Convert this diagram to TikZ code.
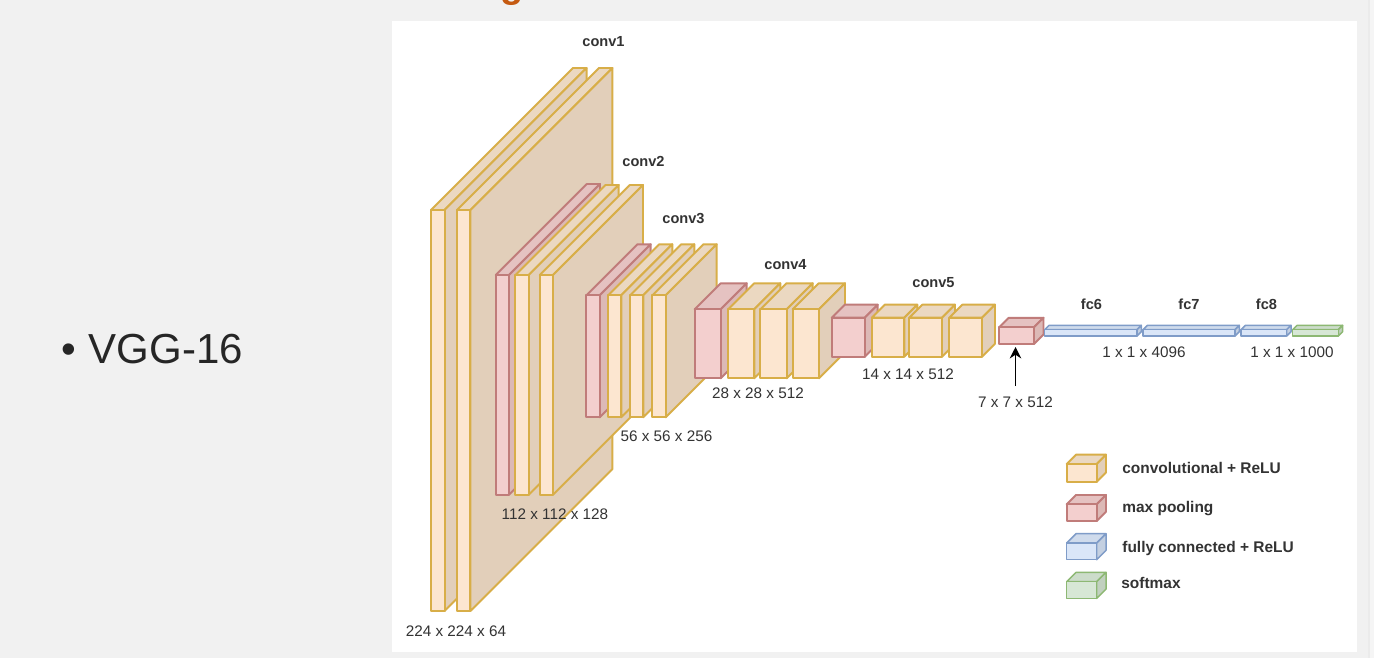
\documentclass[tikz,border=0pt]{standalone}
\usepackage{fontspec}
\setmainfont{Liberation Sans}
\usetikzlibrary{arrows.meta}
\definecolor{pagegray}{HTML}{F1F1F1}
\definecolor{convline}{HTML}{D8AE48}
\definecolor{convfront}{HTML}{FCE6D0}
\definecolor{convtop}{HTML}{EBD8C1}
\definecolor{convside}{HTML}{E2CFBA}
\definecolor{poolline}{HTML}{C07C7A}
\definecolor{poolfront}{HTML}{F3CFCE}
\definecolor{pooltop}{HTML}{E5C2C1}
\definecolor{poolside}{HTML}{DCB9B6}
\definecolor{fullline}{HTML}{7F9CC8}
\definecolor{fullfront}{HTML}{DAE6F8}
\definecolor{fulltop}{HTML}{CFDBEC}
\definecolor{fullside}{HTML}{C4D0E1}
\definecolor{softline}{HTML}{8DB873}
\definecolor{softfront}{HTML}{D7E7D5}
\definecolor{softtop}{HTML}{CCDCCA}
\definecolor{softside}{HTML}{C1D0BF}
\definecolor{labelgray}{HTML}{333333}
\tikzset{
    conv/.style={draw=convline, line width=1.1pt, line join=round},
    pool/.style={draw=poolline, line width=1.1pt, line join=round},
    full/.style={draw=fullline, line width=0.85pt, line join=round},
    soft/.style={draw=softline, line width=0.85pt, line join=round},
    layername/.style={
        inner sep=0,
        text=labelgray,
        font=\fontsize{8.3}{10}\selectfont\bfseries
    },
    sizelabel/.style={
        inner sep=0,
        text=labelgray,
        font=\fontsize{8.7}{10}\selectfont
    },
    keylabel/.style={
        anchor=west,
        inner sep=0,
        text=labelgray,
        font=\fontsize{8.8}{10}\selectfont\bfseries
    }
}
% name, x, y, width, height, depth, kind (all in pixels of the picture)
\newcommand{\layerblock}[7]{
    \draw[#7, fill=#7top] (#2,#3) -- ++(#6,-#6) -- ++(#4,0) -- ++(-#6,#6) -- cycle;
    \draw[#7, fill=#7side] (#2+#4,#3) -- ++(#6,-#6) -- ++(0,#5) -- ++(-#6,#6) -- cycle;
    \node[#7, fill=#7front, anchor=north west, inner sep=0, outer sep=0,
        minimum width=#4*0.02cm, minimum height=#5*0.02cm] (#1) at (#2,#3) {};
}

\begin{document}
\begin{tikzpicture}[x=0.02cm, y=-0.02cm]
    \useasboundingbox (0,0) rectangle (1374,658);
    % page and panel
    \fill[pagegray] (0,0) rectangle (1374,658);
    \fill[black!8] (1368,0) rectangle (1370,658);
    \fill[black!4] (1370,0) rectangle (1374,658);
    \fill[white] (392,21) rectangle (1357,652);
    \node[anchor=base, inner sep=0, text={rgb,255:red,197;green,90;blue,17},
        font=\fontsize{21.6}{24}\selectfont\bfseries] (headtail) at (512.5,-2) {g};
    \node[anchor=base west, inner sep=0, text=black!85,
        font=\fontsize{23.9}{28}\selectfont] (title) at (61.5,363.5) {•\hspace{7pt}VGG-16};

    % conv1
    \layerblock{convA}{431}{210}{13.6}{401}{142}{conv}
    \layerblock{convB}{457}{210}{13.4}{401}{142}{conv}
    % conv2
    \layerblock{poolA}{495.8}{275}{13.2}{219.7}{91}{pool}
    \layerblock{convC}{515.4}{275}{13.3}{219.7}{90}{conv}
    \layerblock{convD}{539.8}{275}{13.2}{219.7}{90}{conv}
    % conv3
    \layerblock{poolB}{586.4}{295.3}{13.3}{122}{51}{pool}
    \layerblock{convE}{608.3}{295.3}{13}{122}{51}{conv}
    \layerblock{convF}{630.3}{295.3}{13}{122}{51}{conv}
    \layerblock{convG}{652.4}{295.3}{13.3}{122}{51}{conv}
    % conv4
    \layerblock{poolC}{694.7}{309.3}{26}{69}{26}{pool}
    \layerblock{convH}{728.3}{309.3}{26}{69}{26}{conv}
    \layerblock{convI}{760.4}{309.3}{26.3}{69}{26}{conv}
    \layerblock{convJ}{792.7}{309.3}{26.3}{69}{26}{conv}
    % conv5
    \layerblock{poolD}{831.7}{317.7}{33}{39}{13}{pool}
    \layerblock{convK}{871.7}{317.7}{32.6}{39}{13}{conv}
    \layerblock{convL}{909.3}{317.7}{32.7}{39}{13}{conv}
    \layerblock{convM}{949.3}{317.7}{32.7}{39}{13}{conv}
    % last pooling and fully connected layers
    \layerblock{poolE}{999.3}{327.3}{34.7}{16.7}{9.5}{pool}
    \layerblock{fullA}{1044.7}{329.7}{92.3}{6.3}{4.3}{full}
    \layerblock{fullB}{1143}{329.7}{92}{6.3}{4.3}{full}
    \layerblock{fullC}{1241}{329.7}{45.7}{6.3}{4.3}{full}
    \layerblock{softA}{1292.7}{329.7}{45.6}{6.3}{4.3}{soft}

    % layer names
    \node[layername] (nameA) at (603.5,42) {conv1};
    \node[layername] (nameB) at (643.5,161) {conv2};
    \node[layername] (nameC) at (683.5,218) {conv3};
    \node[layername] (nameD) at (785.5,265) {conv4};
    \node[layername] (nameE) at (933.5,283) {conv5};
    \node[layername] (nameF) at (1091.5,304) {fc6};
    \node[layername] (nameG) at (1189,304) {fc7};
    \node[layername] (nameH) at (1266.5,304) {fc8};

    % sizes
    \node[sizelabel] (sizeA) at (456,631) {224 x 224 x 64};
    \node[sizelabel] (sizeB) at (555,514) {112 x 112 x 128};
    \node[sizelabel] (sizeC) at (666.5,436) {56 x 56 x 256};
    \node[sizelabel] (sizeD) at (758,393) {28 x 28 x 512};
    \node[sizelabel] (sizeE) at (908,374) {14 x 14 x 512};
    \node[sizelabel] (sizeF) at (1015.5,402) {7 x 7 x 512};
    \node[sizelabel] (sizeG) at (1144,352) {1 x 1 x 4096};
    \node[sizelabel] (sizeH) at (1292,352) {1 x 1 x 1000};
    \draw[-{Stealth[length=6.5pt,width=6.5pt]}, line width=0.85pt, shorten <=0.2cm, shorten >=0.06cm]
        (sizeF.north) -- (sizeF.north |- poolE.south);

    % legend
    \layerblock{keyA}{1066.7}{464}{30}{17.7}{9.3}{conv}
    \layerblock{keyB}{1066.7}{504.3}{30}{16.7}{9.3}{pool}
    \layerblock{keyC}{1066.7}{543}{30}{16.7}{9.3}{full}
    \layerblock{keyD}{1066.7}{581.7}{30}{16.7}{9.3}{soft}
    \node[keylabel] (textA) at (1122,468) {convolutional + ReLU};
    \node[keylabel] (textB) at (1122,508.5) {max pooling};
    \node[keylabel] (textC) at (1122,548.5) {fully connected + ReLU};
    \node[keylabel] (textD) at (1121,583) {softmax};
\end{tikzpicture}
\end{document}
